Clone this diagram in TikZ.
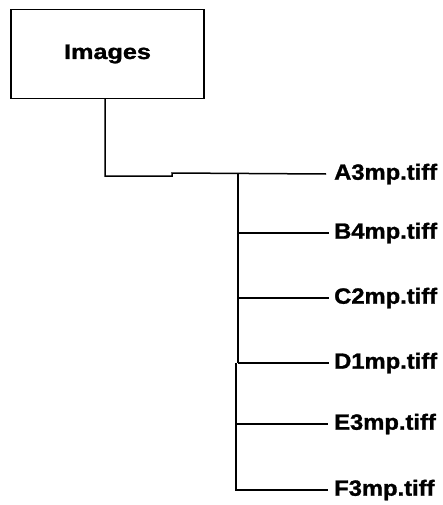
\documentclass[tikz,border=0pt]{standalone}
\usepackage{fontspec}
\setmainfont{Liberation Sans}
\newfontfamily\heavyfont[FakeBold=1.2]{Liberation Sans}
\usetikzlibrary{calc,positioning}

\tikzset{
	folder/.style={draw, line width=1.5pt, minimum width=193pt, minimum height=89pt, font=\fontsize{21}{24}\heavyfont\bfseries},
	file/.style={anchor=west, inner sep=0pt, font=\fontsize{22}{25}\heavyfont\bfseries},
	branch/.style={line width=1.5pt}
}

\begin{document}
\begin{tikzpicture}[x=1pt, y=-1pt]
	\useasboundingbox (0,0) rectangle (443,505);
	
	\node[folder] (images) at (107.5,54) {\scalebox{1.2}[1]{Images}};
	
	\node[file] (a3) at (334,174) {\scalebox{1.08}[1]{A3mp.tiff}};
	\node[file] (b4) at (334,233) {\scalebox{1.08}[1]{B4mp.tiff}};
	\node[file] (c2) at (334,298) {\scalebox{1.08}[1]{C2mp.tiff}};
	\node[file] (d1) at (334,363) {\scalebox{1.08}[1]{D1mp.tiff}};
	\node[file] (e3) at (334,424) {\scalebox{1.08}[1]{E3mp.tiff}};
	\node[file] (f3) at (334,490) {\scalebox{1.08}[1]{F3mp.tiff}};
	
	\coordinate (down) at (105,176);
	\coordinate (step) at (172,176);
	\coordinate (top) at (238,173);
	\coordinate (mid) at (238,363);
	\coordinate (low) at (236,363);
	
	\draw [branch] (images.south -| down) -- (down) -- (step) -- (step |- top) -- ([xshift=-8pt]a3.west);
	\draw [branch] (top) -- (mid);
	\draw [branch] (low) -- (low |- f3.west) -- ([xshift=-6pt]f3.west);
	\draw [branch] (top |- b4.west) -- ([xshift=-5pt]b4.west);
	\draw [branch] (top |- c2.west) -- ([xshift=-5pt]c2.west);
	\draw [branch] (top |- d1.west) -- ([xshift=-5pt]d1.west);
	\draw [branch] (low |- e3.west) -- ([xshift=-6pt]e3.west);
\end{tikzpicture}
\end{document}
